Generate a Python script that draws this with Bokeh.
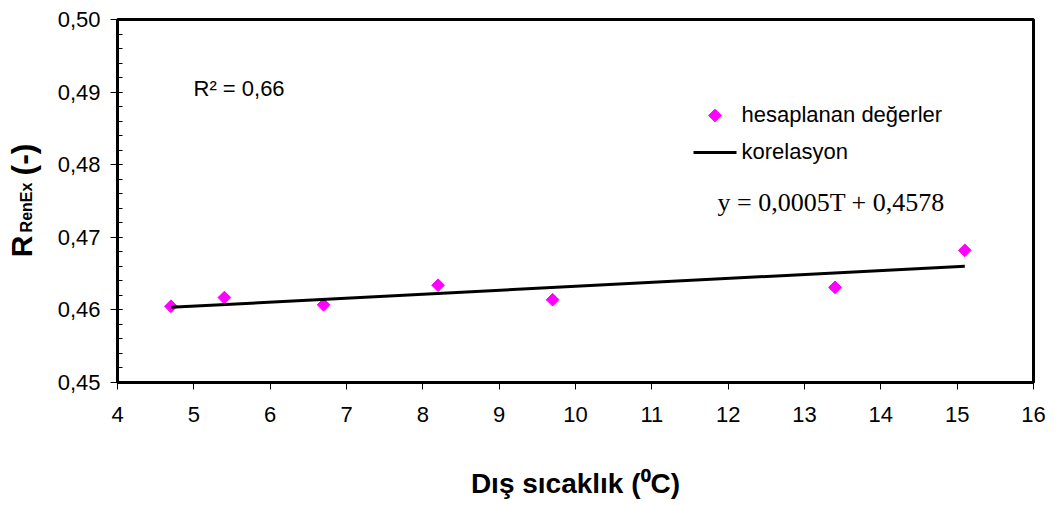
import numpy as np
from bokeh.plotting import figure
from bokeh.layouts import row
from bokeh.models import Label, CustomJSTickFormatter, FixedTicker, Range1d
from bokeh.embed import file_html
from bokeh.resources import INLINE

# Data
temps = [4.7, 5.4, 6.7, 8.2, 9.7, 13.4, 15.1]
r_renex = [0.4605, 0.4617, 0.4607, 0.4634, 0.4614, 0.4631, 0.4682]
x_ticks = list(range(4, 17))
y_ticks = [0.45, 0.46, 0.47, 0.48, 0.49, 0.50]
r2_text = "R² = 0,66"
eq_text = "y = 0,0005T + 0,4578"
legend_points = "hesaplanan değerler"
legend_line = "korelasyon"
x_title = "Dış sıcaklık (⁰C)"
y_title_parts = ["R", "RenEx", "(-)"]

slope, intercept = np.polyfit(temps, r_renex, 1)
trend_x = [min(temps), max(temps)]
trend_y = [slope * t + intercept for t in trend_x]

FONT = "Liberation Sans"
X0, X1, Y0, Y1 = 4, 16, 0.45, 0.50
FL, FR, FT, FB = 117, 1033, 19, 382   # frame edges in page pixels


def px2x(px):
    return X0 + (px - FL) / (FR - FL) * (X1 - X0)


def py2y(py):
    return Y1 - (py - FT) / (FB - FT) * (Y1 - Y0)


LEFT_W = 45
yr = Range1d(Y0, Y1)
p = figure(width=1059 - LEFT_W, height=506, x_range=Range1d(X0, X1), y_range=yr,
           output_backend="svg", toolbar_location=None,
           min_border_left=FL - LEFT_W, min_border_right=1059 - FR,
           min_border_top=FT, min_border_bottom=506 - FB)
p.background_fill_color = "white"
p.border_fill_color = "white"
p.outline_line_color = "black"
p.outline_line_width = 3
p.grid.visible = False

# Axes
p.xaxis.ticker = FixedTicker(ticks=x_ticks)
p.yaxis.ticker = FixedTicker(ticks=y_ticks,
                             minor_ticks=[round(0.45 + 0.002 * i, 3) for i in range(26)])
p.yaxis.formatter = CustomJSTickFormatter(code="return tick.toFixed(2).replace('.', ',');")
for ax in (p.xaxis[0], p.yaxis[0]):
    ax.axis_line_color = "black"
    ax.axis_line_width = 3
    ax.major_tick_line_color = "black"
    ax.major_tick_line_width = 1
    ax.major_label_text_font = FONT
    ax.major_label_text_font_size = "22px"
    ax.major_label_text_color = "black"
p.xaxis.major_label_standoff = 17
p.yaxis.major_label_standoff = 10
p.xaxis.major_tick_out = 7
p.xaxis.major_tick_in = 0
p.xaxis.minor_tick_line_color = None
p.yaxis.major_tick_out = 7
p.yaxis.major_tick_in = 5
p.yaxis.minor_tick_in = 5
p.yaxis.minor_tick_out = 0
p.yaxis.minor_tick_line_color = "black"

p.xaxis.axis_label = x_title
p.xaxis.axis_label_text_font = FONT
p.xaxis.axis_label_text_font_size = "28px"
p.xaxis.axis_label_text_font_style = "bold"
p.xaxis.axis_label_text_color = "black"
p.xaxis.axis_label_standoff = 43

# Glyphs
p.scatter(temps, r_renex, marker="square", angle=np.pi / 4, size=9,
          fill_color="#FF00FF", line_color="#FF00FF")
p.line(trend_x, trend_y, line_color="black", line_width=3)

# Legend (drawn by hand so the key diamond matches the marks)
p.scatter([px2x(714.5)], [py2y(115)], marker="square", angle=np.pi / 4, size=9,
          fill_color="#FF00FF", line_color="#FF00FF")
p.line([px2x(693), px2x(736)], [py2y(152), py2y(152)], line_color="black", line_width=3)
p.add_layout(Label(x=px2x(741), y=py2y(114), text=legend_points, text_font=FONT,
                   text_font_size="22px", text_baseline="middle", text_align="left",
                   text_color="black"))
p.add_layout(Label(x=px2x(741), y=py2y(151), text=legend_line, text_font=FONT,
                   text_font_size="22px", text_baseline="middle", text_align="left",
                   text_color="black"))

p.add_layout(Label(x=px2x(193), y=py2y(88), text=r2_text, text_font=FONT, text_font_size="22px",
                   text_baseline="middle", text_align="left", text_color="black"))
p.add_layout(Label(x=px2x(717), y=py2y(202), text=eq_text, text_font="Liberation Serif",
                   text_font_size="26px", text_baseline="middle", text_align="left",
                   text_color="black"))

# Y-axis title with subscript, in a narrow side figure sharing the y scale
left = figure(width=LEFT_W, height=506, x_range=Range1d(0, LEFT_W), y_range=yr,
              x_axis_type=None, y_axis_type=None, output_backend="svg", toolbar_location=None,
              min_border=0, min_border_left=0, min_border_right=0, min_border_top=FT,
              min_border_bottom=506 - FB)
left.outline_line_color = None
left.grid.visible = False
left.background_fill_color = "white"
left.border_fill_color = "white"
# centre of each piece (page pixels)
for txt, cx, cy, fs in zip(y_title_parts, [21, 26, 22], [246, 207, 159], ["30px", "16px", "32px"]):
    left.add_layout(Label(x=cx, y=py2y(cy), text=txt, angle=np.pi / 2, text_font=FONT,
                          text_font_size=fs, text_font_style="bold",
                          text_baseline="middle", text_align="center", text_color="black"))

layout = row(left, p, spacing=0)
open("out.html", "w").write(file_html(layout, INLINE))
